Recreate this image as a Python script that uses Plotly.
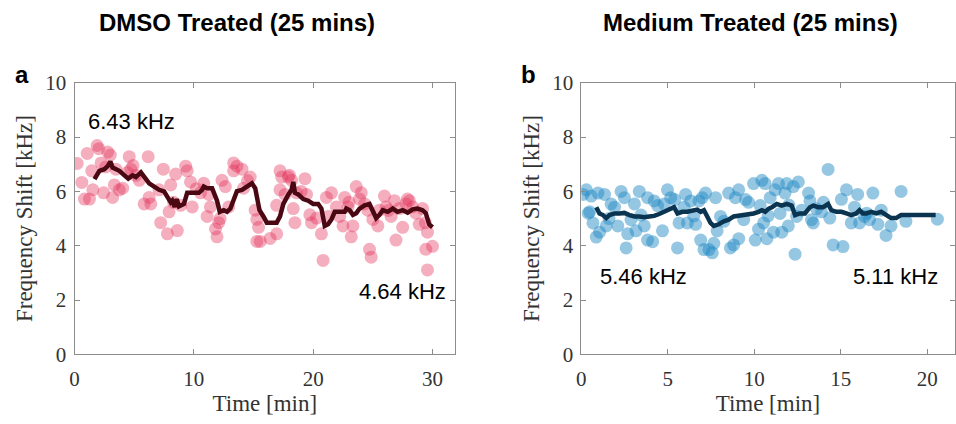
import plotly.graph_objects as go

# ---------------- Panel a: DMSO treated ----------------
dmso_t = [0.22, 0.61, 0.83, 1.25, 1.06, 1.44, 1.53, 1.89, 2.03, 2.44, 2.22, 2.78, 3.0, 3.19, 3.33,
          3.75, 4.03, 3.47, 4.58, 4.72, 4.44, 5.14, 5.42, 5.83, 6.17, 6.25, 6.39, 7.08, 7.22, 7.44,
          7.78, 7.92, 8.06, 8.47, 8.61, 8.89, 9.31, 9.44, 9.72, 9.86, 10.56, 10.83, 11.11, 11.25, 11.39,
          11.81, 11.94, 12.08, 12.36, 12.64, 12.92, 13.33, 13.61, 13.33, 14.03, 14.17, 14.72, 15.14, 15.28,
          15.42, 15.28, 15.56, 16.39, 16.94, 17.22, 17.36, 17.22, 16.94, 17.64, 17.92, 18.19, 18.33, 18.47,
          18.61, 19.31, 19.44, 19.72, 19.86, 20.28, 20.69, 20.83, 21.25, 21.11, 21.53, 21.94, 22.22, 22.5,
          22.64, 22.92, 23.19, 23.33, 23.61, 23.89, 24.03, 24.31, 24.58, 24.72, 24.86, 25.0, 25.42, 25.56,
          25.97, 26.11, 26.53, 26.81, 26.94, 27.22, 27.5, 27.78, 28.06, 28.33, 28.61, 28.89, 29.17, 29.44,
          29.58, 29.58, 30.0, 27.9, 29.4, 2.6, 4.9, 8.3, 10.2, 12.2, 14.5, 18.0, 19.0, 23.0, 26.3]
dmso_f = [7.03, 6.33, 5.72, 5.72, 7.4, 6.76, 6.06, 7.69, 7.57, 5.95, 7.05, 7.45, 7.34, 5.78, 6.24,
          6.06, 6.12, 6.82, 7.28, 6.82, 6.7, 6.59, 6.41, 5.54, 7.28, 5.78, 5.54, 6.06, 4.85, 6.82,
          4.44, 5.25, 6.24, 6.64, 4.56, 5.49, 6.93, 6.76, 6.35, 5.43, 5.95, 6.3, 5.08, 5.89, 5.43,
          4.62, 4.33, 4.85, 6.41, 6.18, 5.43, 7.05, 6.93, 6.76, 6.82, 6.12, 6.53, 5.31, 4.97,
          4.68, 4.16, 4.16, 4.27, 4.44, 6.76, 6.53, 6.06, 5.49, 5.89, 6.53, 6.41, 5.37, 4.85,
          5.95, 6.47, 5.89, 5.14, 4.85, 5.02, 4.44, 3.46, 5.08, 5.78, 5.95, 5.43, 5.08, 4.73,
          5.78, 5.43, 4.33, 4.73, 6.18, 5.72, 5.95, 5.54, 5.31, 3.87, 3.58, 4.97, 4.73, 5.31,
          5.83, 5.43, 5.08, 5.66, 4.21, 5.37, 4.68, 5.54, 5.66, 5.43, 5.2, 4.79, 5.37, 3.87,
          4.5, 3.11, 3.98, 5.72, 4.85, 6.9, 6.95, 5.6, 6.1, 5.0, 6.4, 6.6, 6.0, 5.6, 5.3]

dmso_avg_t = [1.67, 2.08, 2.5, 2.78, 3.0, 3.19, 3.75, 4.17, 4.5, 4.86, 5.14, 5.56, 5.83, 6.25, 6.67,
              7.08, 7.5, 7.78, 8.06, 8.19, 8.39, 8.56, 8.75, 9.17, 9.44, 9.86, 10.42, 10.69, 10.83,
              11.11, 11.53, 11.94, 12.17, 12.5, 12.78, 13.06, 13.33, 13.61, 14.03, 14.44, 14.86, 15.14,
              15.5, 15.83, 16.11, 16.53, 16.94, 17.22, 17.5, 17.92, 18.19, 18.33, 18.47, 18.75, 19.17,
              19.58, 20.0, 20.42, 20.69, 20.97, 21.25, 21.53, 21.81, 22.22, 22.64, 22.78, 23.06, 23.33,
              23.61, 23.89, 24.31, 24.72, 25.0, 25.28, 25.56, 25.83, 26.25, 26.67, 27.08, 27.5, 27.92,
              28.33, 28.75, 29.17, 29.44, 29.72, 30.0]
dmso_avg_f = [6.45, 6.76, 6.82, 6.93, 7.1, 6.88, 6.76, 6.59, 6.47, 6.59, 6.53, 6.7, 6.53, 6.3, 6.18,
              6.06, 6.0, 5.78, 5.6, 5.66, 5.43, 5.72, 5.45, 5.54, 5.95, 5.95, 5.95, 6.06, 6.18,
              6.12, 6.12, 5.66, 5.25, 5.31, 5.25, 5.37, 5.66, 6.01, 6.06, 6.18, 6.3, 6.12,
              5.31, 5.08, 4.85, 4.85, 4.85, 5.08, 5.54, 5.89, 6.06, 6.35, 5.95, 5.89, 5.72,
              5.66, 5.54, 5.54, 5.37, 4.73, 4.79, 4.97, 5.25, 5.25, 5.25, 5.37, 5.31, 5.14,
              5.2, 5.37, 5.49, 5.54, 5.31, 5.02, 5.14, 5.31, 5.25, 5.37, 5.25, 5.31, 5.22,
              5.34, 5.37, 5.31, 5.2, 4.79, 4.68]

# ---------------- Panel b: Medium treated ----------------
med_t = [0.1, 0.29, 0.48, 0.57, 0.67, 0.86, 0.96, 1.05, 1.34, 1.44, 1.72, 1.92, 2.11, 2.3, 2.49, 2.59,
         2.68, 2.87, 3.07, 3.16, 3.35, 3.45, 3.64, 3.83, 3.83, 4.12, 4.21, 4.41, 4.69, 4.79, 4.98, 5.17,
         5.56, 5.65, 5.94, 6.03, 6.13, 6.32, 6.61, 6.8, 6.9, 6.99, 7.18, 7.09, 7.38, 7.57, 7.66, 7.76,
         7.85, 8.05, 8.24, 8.52, 8.62, 8.81, 8.91, 9.1, 9.1, 9.39, 9.67, 9.96, 10.06, 10.25, 10.34,
         10.44, 10.54, 10.63, 10.73, 10.92, 11.11, 11.21, 11.4, 11.49, 11.59, 11.78, 11.88, 11.97,
         12.26, 12.36, 12.45, 12.55, 12.74, 13.14, 13.22, 13.31, 13.41, 13.6, 13.89, 14.27, 14.37,
         14.56, 15.04, 15.13, 15.33, 15.61, 15.8, 15.98, 16.09, 16.38, 16.67, 16.86, 17.15, 17.34,
         17.62, 17.91, 18.49, 18.77, 20.59, 0.4, 1.6, 5.4, 6.5, 9.5, 10.8, 12.0, 14.0, 16.5]
med_f = [5.89, 6.06, 5.25, 5.83, 4.84, 4.32, 5.94, 4.5, 5.89, 4.73, 5.54, 5.42, 4.73, 6.0, 5.77, 3.92,
         4.44, 4.96, 5.54, 4.55, 6.0, 5.13, 4.73, 5.77, 4.21, 4.15, 5.65, 5.48, 4.55, 5.54, 6.06, 5.77,
         3.92, 4.84, 5.42, 5.89, 4.84, 5.65, 4.79, 5.65, 4.21, 5.77, 5.94, 3.86, 3.86, 3.74, 4.09, 5.77,
         4.55, 5.08, 4.9, 5.94, 3.92, 4.03, 5.77, 6.06, 4.26, 4.96, 5.6, 6.29, 4.21, 4.61, 5.48,
         6.41, 4.84, 6.29, 4.26, 5.77, 4.5, 6.06, 6.29, 5.19, 4.5, 5.94, 6.29, 4.73,
         6.18, 3.69, 5.08, 6.35, 5.31, 5.94, 5.65, 4.96, 4.84, 5.36, 5.25, 6.81, 5.02,
         4.03, 5.71, 3.97, 6.06, 4.84, 5.42, 5.89, 4.84, 5.08, 4.96, 5.94, 4.79, 5.31,
         4.38, 4.73, 6.0, 4.9, 4.98, 5.2, 5.0, 5.7, 5.1, 5.7, 5.1, 5.5, 5.6, 5.2]

med_avg_t = [0.86, 1.05, 1.25, 1.44, 1.63, 1.92, 2.2, 2.49, 2.78, 3.07, 3.35, 3.64, 3.93, 4.21, 4.5,
             4.79, 5.08, 5.36, 5.56, 5.84, 6.13, 6.42, 6.7, 6.9, 7.09, 7.28, 7.47, 7.66, 7.95, 8.24,
             8.52, 8.81, 9.1, 9.39, 9.67, 9.96, 10.25, 10.44, 10.63, 10.82, 11.02, 11.3, 11.59, 11.88,
             12.16, 12.36, 12.64, 12.93, 13.22, 13.41, 13.7, 13.98, 14.27, 14.46, 14.75, 15.04, 15.33,
             15.61, 15.9, 16.09, 16.28, 16.48, 16.76, 17.05, 17.34, 17.62, 17.91, 18.2, 18.49, 18.97,
             19.54, 20.11, 20.49]
med_avg_f = [5.42, 5.19, 5.13, 5.02, 5.13, 5.19, 5.19, 5.21, 5.13, 5.08, 5.08, 5.05, 5.08, 5.1, 5.17,
             5.25, 5.33, 5.42, 5.19, 5.25, 5.25, 5.31, 5.33, 5.25, 5.31, 5.08, 4.84, 4.73, 4.79, 4.9,
             4.96, 5.08, 5.1, 5.13, 5.17, 5.19, 5.25, 5.31, 5.25, 5.36, 5.42, 5.54, 5.48, 5.54,
             5.48, 5.13, 5.19, 5.19, 5.42, 5.48, 5.42, 5.42, 5.54, 5.31, 5.25, 5.25, 5.19,
             5.13, 5.19, 5.31, 5.19, 5.19, 5.25, 5.19, 5.25, 5.13, 5.02, 5.02, 5.13, 5.13,
             5.13, 5.13, 5.13]

y_ticks = [0, 2, 4, 6, 8, 10]
xa_ticks = [0, 10, 20, 30]
xb_ticks = [0, 5, 10, 15, 20]

titles = ["DMSO Treated (25 mins)", "Medium Treated (25 mins)"]
panel_letters = ["a", "b"]
start_labels = ["6.43 kHz", "5.46 kHz"]
end_labels = ["4.64 kHz", "5.11 kHz"]

fig = go.Figure()
fig.add_trace(go.Scatter(x=dmso_t, y=dmso_f, mode="markers", xaxis="x", yaxis="y",
                         marker=dict(size=13, color="rgba(228,52,92,0.4)", line=dict(width=0)),
                         showlegend=False, hoverinfo="skip"))
fig.add_trace(go.Scatter(x=dmso_avg_t, y=dmso_avg_f, mode="lines", xaxis="x", yaxis="y",
                         line=dict(color="#4a0812", width=4.5), showlegend=False))
fig.add_trace(go.Scatter(x=med_t, y=med_f, mode="markers", xaxis="x2", yaxis="y2",
                         marker=dict(size=13, color="rgba(30,135,195,0.47)", line=dict(width=0)),
                         showlegend=False, hoverinfo="skip"))
fig.add_trace(go.Scatter(x=med_avg_t, y=med_avg_f, mode="lines", xaxis="x2", yaxis="y2",
                         line=dict(color="#0a3450", width=4.5), showlegend=False))

serif = "Liberation Serif, DejaVu Serif, serif"
sans = "Liberation Sans, Arial, sans-serif"
axcol = "#8c8c8c"

def xax(dom, rng, ticks, anchor):
    return dict(domain=dom, range=rng, tickvals=ticks, ticktext=[str(t) for t in ticks],
                showline=True, linecolor=axcol, linewidth=1, mirror="ticks", ticks="inside",
                ticklen=5, tickcolor=axcol, showgrid=False, zeroline=False, anchor=anchor,
                ticklabelstandoff=5,
                tickfont=dict(family=serif, size=21, color="#333"),
                title=dict(text="Time [min]", font=dict(family=serif, size=23, color="#333"), standoff=2))

def yax(dom, anchor):
    return dict(domain=dom, range=[0, 10], tickvals=y_ticks, ticktext=[str(t) for t in y_ticks],
                showline=True, linecolor=axcol, linewidth=1, mirror="ticks", ticks="inside",
                ticklen=5, tickcolor=axcol, showgrid=False, zeroline=False, anchor=anchor,
                ticklabelstandoff=3,
                tickfont=dict(family=serif, size=21, color="#333"),
                title=dict(text="Frequency Shift [kHz]", font=dict(family=serif, size=23, color="#333"), standoff=6))

ydom = [61 / 424, 349 / 424]
fig.update_layout(
    width=956, height=424, margin=dict(l=0, r=0, t=0, b=0),
    plot_bgcolor="white", paper_bgcolor="white",
    xaxis=xax([70 / 956, 453 / 956], [0, 31.9], xa_ticks, "y"),
    yaxis=yax(ydom, "x"),
    xaxis2=xax([580 / 956, 955.5 / 956], [0, 21.58], xb_ticks, "y2"),
    yaxis2=yax(ydom, "x2"),
)

annos = []
for cx, t in zip([233, 750], titles):
    annos.append(dict(text="<b>%s</b>" % t, x=cx / 956, y=1 - 11 / 424, xref="paper", yref="paper",
                      showarrow=False, xanchor="center", yanchor="middle",
                      font=dict(family=sans, size=24, color="black")))
for cx, t in zip([17, 527], panel_letters):
    annos.append(dict(text="<b>%s</b>" % t, x=cx / 956, y=1 - 66 / 424, xref="paper", yref="paper",
                      showarrow=False, xanchor="center", yanchor="middle",
                      font=dict(family=sans, size=24, color="black")))
for px, py, t in [(82, 116, start_labels[0]), (597, 280, start_labels[1])]:
    annos.append(dict(text=t, x=px / 956, y=1 - py / 424, xref="paper", yref="paper",
                      showarrow=False, xanchor="left", yanchor="middle",
                      font=dict(family=sans, size=22, color="black")))
for px, py, t in [(446, 296, end_labels[0]), (941, 280, end_labels[1])]:
    annos.append(dict(text=t, x=px / 956, y=1 - py / 424, xref="paper", yref="paper",
                      showarrow=False, xanchor="right", yanchor="middle",
                      font=dict(family=sans, size=22, color="black")))
fig.update_layout(annotations=annos)

fig.write_html("out.html")
